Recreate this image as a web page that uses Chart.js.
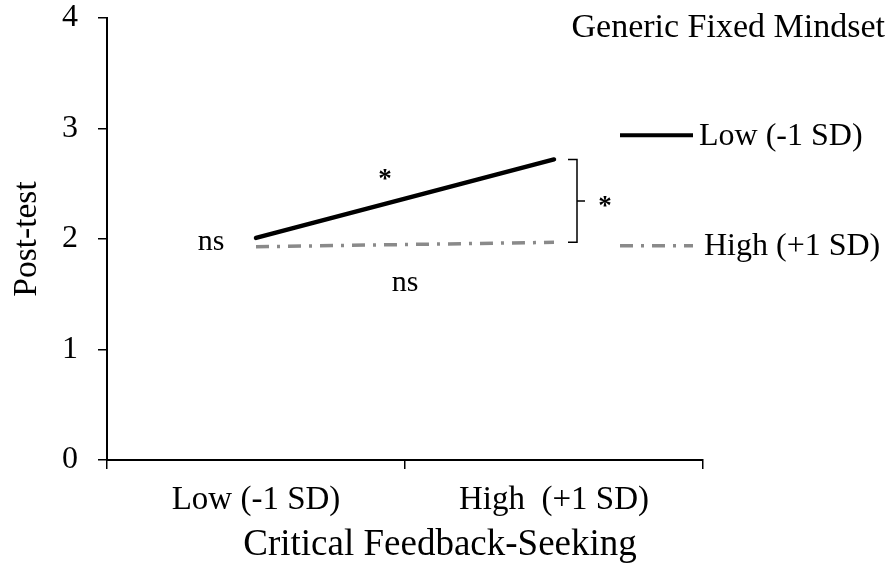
<!DOCTYPE html>
<html>
<head>
<meta charset="utf-8">
<script src="https://cdn.jsdelivr.net/npm/chart.js@4.4.1/dist/chart.umd.min.js"></script>
<style>
  html, body { margin: 0; padding: 0; background: #ffffff; }
  #wrap { width: 891px; height: 565px; position: relative; }
</style>
</head>
<body>
<div id="wrap"><canvas id="c" width="891" height="565"></canvas></div>
<script>
// ---- data ----
const categories = ["Low (-1 SD)", "High  (+1 SD)"];
const seriesNames = ["Low (-1 SD)", "High (+1 SD)"];
const lowSeries = [2.01, 2.72];
const highSeries = [1.93, 1.97];
const yTicks = [0, 1, 2, 3, 4];
const chartTitle = "Generic Fixed Mindset";
const xTitle = "Critical Feedback-Seeking";
const yTitle = "Post-test";
const annotations = { slopeLow: "*", slopeHigh: "ns", atLow: "ns", atHigh: "*" };

const SERIF = "'Liberation Serif', 'Times New Roman', serif";
const DASHDOT = [13, 8, 3, 8];
const GREY = "#8a8a8a";

const overlay = {
  id: "overlay",
  afterDatasetsDraw(chart) {
    const ctx = chart.ctx;
    const xs = chart.scales.x, ys = chart.scales.y;
    const area = chart.chartArea;
    ctx.save();
    ctx.fillStyle = "#000";
    ctx.textBaseline = "middle";

    // title
    ctx.font = "34px " + SERIF;
    ctx.textAlign = "right";
    ctx.fillText(chartTitle, 885, 28);

    // x-axis title (centred as in the reference, slightly right of the plot centre)
    ctx.textAlign = "center";
    ctx.font = "37px " + SERIF;
    ctx.fillText(xTitle, (area.left + area.right) / 2 + 35, 545);

    // legend
    const legY = [ys.getPixelForValue(2.94), ys.getPixelForValue(1.94)];
    const lx0 = area.right - 83, lx1 = area.right - 10;
    ctx.lineWidth = 4;
    ctx.strokeStyle = "#000";
    ctx.beginPath(); ctx.moveTo(lx0, legY[0]); ctx.lineTo(lx1, legY[0]); ctx.stroke();
    ctx.strokeStyle = GREY;
    ctx.lineWidth = 3.5;
    ctx.setLineDash(DASHDOT);
    ctx.beginPath(); ctx.moveTo(lx0, legY[1]); ctx.lineTo(lx1, legY[1]); ctx.stroke();
    ctx.setLineDash([]);
    ctx.textAlign = "left";
    ctx.font = "32px " + SERIF;
    ctx.fillText(seriesNames[0], lx1 + 6, legY[0] + 1);
    ctx.fillText(seriesNames[1], lx1 + 11, legY[1] + 1);

    // annotations
    const xL = xs.getPixelForValue(0), xH = xs.getPixelForValue(1);
    ctx.textAlign = "center";
    ctx.font = "30px " + SERIF;
    ctx.fillText(annotations.atLow, xL - 45, ys.getPixelForValue(1.97));
    ctx.fillText(annotations.slopeHigh, (xL + xH) / 2, ys.getPixelForValue(1.60));
    ctx.font = "bold 27px " + SERIF;
    ctx.fillText(annotations.slopeLow, (xL + xH) / 2 - 20, ys.getPixelForValue(2.53));

    // bracket
    const bTop = ys.getPixelForValue(lowSeries[1]);
    const bBot = ys.getPixelForValue(highSeries[1]);
    const bx0 = xH + 14, bx1 = xH + 23;
    ctx.strokeStyle = "#000";
    ctx.lineWidth = 1.5;
    ctx.beginPath();
    ctx.moveTo(bx0, bTop); ctx.lineTo(bx1, bTop); ctx.lineTo(bx1, bBot); ctx.lineTo(bx0, bBot);
    const bMid = (bTop + bBot) / 2;
    ctx.moveTo(bx1, bMid); ctx.lineTo(bx1 + 8, bMid);
    ctx.stroke();
    ctx.font = "bold 27px " + SERIF;
    ctx.fillText(annotations.atHigh, bx1 + 28, bMid + 6);
    ctx.restore();
  }
};

new Chart(document.getElementById("c"), {
  type: "line",
  data: {
    labels: categories,
    datasets: [
      { label: seriesNames[0], data: lowSeries, borderColor: "#000", borderWidth: 4.5,
        pointRadius: 0, borderCapStyle: "round", fill: false, tension: 0 },
      { label: seriesNames[1], data: highSeries, borderColor: GREY, borderWidth: 3.5,
        borderDash: DASHDOT, pointRadius: 0, fill: false, tension: 0 }
    ]
  },
  options: {
    responsive: false,
    animation: false,
    devicePixelRatio: 1,
    layout: { padding: { left: 0, right: 188, top: 18, bottom: 0 } },
    plugins: { legend: { display: false }, tooltip: { enabled: false } },
    scales: {
      x: {
        type: "category",
        offset: true,
        grid: { display: true, offset: true, drawOnChartArea: false, drawTicks: true,
                tickLength: 9, color: "#000", lineWidth: 1.5 },
        border: { display: true, color: "#000", width: 2 },
        ticks: { color: "#000", font: { family: SERIF, size: 33 }, padding: 12, maxRotation: 0 },
        title: { display: false, text: xTitle },
        afterFit(s) { s.height = 105; s.paddingLeft = 0; s.paddingRight = 0; }
      },
      y: {
        min: 0, max: 4,
        afterBuildTicks(s) { s.ticks = yTicks.map(v => ({ value: v })); },
        grid: { display: true, drawOnChartArea: false, drawTicks: true,
                tickLength: 9, color: "#000", lineWidth: 1.5 },
        border: { display: true, color: "#000", width: 2 },
        ticks: { color: "#000", font: { family: SERIF, size: 32, lineHeight: 1 }, padding: 20 },
        title: { display: true, text: yTitle, color: "#000",
                 font: { family: SERIF, size: 33.5 }, padding: { top: 7, bottom: 0 } },
        afterFit(s) { s.width = 107; s.paddingTop = 0; s.paddingBottom = 0; }
      }
    }
  },
  plugins: [overlay]
});
</script>
</body>
</html>
